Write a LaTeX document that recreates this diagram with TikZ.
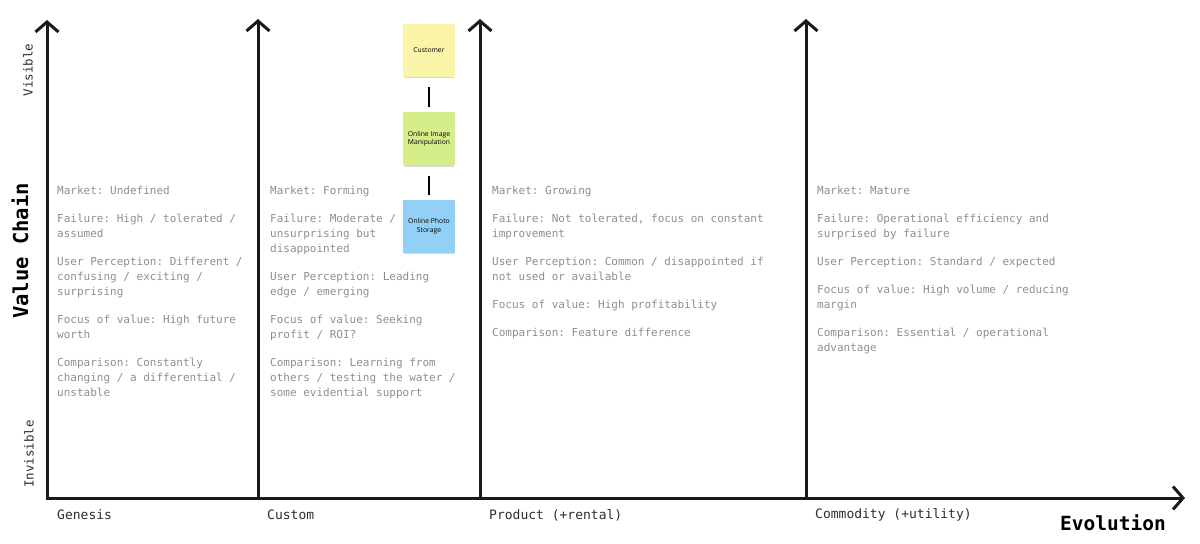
\documentclass[tikz,border=0pt]{standalone}
\usepackage{fontspec}
\setmainfont{Open Sans}
\setmonofont{DejaVu Sans Mono}
\usetikzlibrary{arrows.meta,shadows,positioning}

\definecolor{axiscol}{HTML}{1A1A1A}
\definecolor{desccol}{HTML}{8E8E8E}
\definecolor{stagecol}{HTML}{2E2E2E}
\definecolor{noteyellow}{HTML}{FAF5A8}
\definecolor{notegreen}{HTML}{D6EE8A}
\definecolor{noteblue}{HTML}{92D1F5}

\begin{document}
\begin{tikzpicture}[x=1bp, y=-1bp,
  axis/.style={draw=axiscol, line width=3bp, line join=miter,
    {Straight Barb[length=10bp,width=23bp,line width=3bp]}-{Straight Barb[length=10bp,width=23bp,line width=3bp]}},
  upaxis/.style={draw=axiscol, line width=3bp,
    -{Straight Barb[length=10bp,width=23bp,line width=3bp]}},
  desc/.style={anchor=north west, inner sep=0pt, align=left, text=desccol,
    font=\ttfamily\fontsize{11bp}{15bp}\selectfont},
  stage/.style={anchor=west, inner sep=0pt, text=stagecol,
    font=\ttfamily\fontsize{13bp}{15bp}\selectfont},
  title/.style={inner sep=0pt, text=black,
    font=\ttfamily\bfseries\fontsize{19.5bp}{22bp}\selectfont},
  vis/.style={inner sep=0pt, rotate=90, text=stagecol,
    font=\ttfamily\fontsize{12.5bp}{15bp}\selectfont},
  note/.style={minimum width=52bp, minimum height=53bp, inner sep=1bp,
    align=center, font=\fontsize{6.8bp}{8.5bp}\selectfont,
    drop shadow={shadow xshift=0bp, shadow yshift=-2.5bp, shadow scale=0.96, opacity=0.3}},
  link/.style={draw=black, line width=2bp, shorten <=10bp, shorten >=5bp}]
\useasboundingbox (0,0) rectangle (1200,544);

% axes
\coordinate (origin) at (47,498);
\coordinate (ytop) at (47,20);
\coordinate (xend) at (1185,498);
\coordinate (custom) at (258,498);
\coordinate (product) at (480,498);
\coordinate (commodity) at (806,498);
\draw[axis] (ytop) -- (origin) -- (xend);
\draw[upaxis] (custom) -- (258,19);
\draw[upaxis] (product) -- (480,19);
\draw[upaxis] (commodity) -- (806,19);

% axis labels
\node[title, font=\ttfamily\bfseries\fontsize{20.5bp}{22bp}\selectfont, rotate=90] (valuechain) at (20,251) {Value Chain};
\node[vis] (visible) at (28,70) {Visible};
\node[vis] (invisible) at (29,454) {Invisible};
\node[title] (evolution) at (1113,523) {Evolution};

\node[stage] (genesislbl) at (57,515) {Genesis};
\node[stage] (customlbl) at (267,515) {Custom};
\node[stage] (productlbl) at (489,515) {Product (+rental)};
\node[stage] (commoditylbl) at (815,515) {Commodity (+utility)};

% stage descriptions
\node[desc] (genesisdesc) at (57,186) {Market: Undefined\\[13bp]
Failure: High / tolerated /\\assumed\\[13bp]
User Perception: Different /\\confusing / exciting /\\surprising\\[13bp]
Focus of value: High future\\worth\\[13bp]
Comparison: Constantly\\changing / a differential /\\unstable};

\node[desc] (customdesc) at (270,186) {Market: Forming\\[13bp]
Failure: Moderate /\\unsurprising but\\disappointed\\[13bp]
User Perception: Leading\\edge / emerging\\[13bp]
Focus of value: Seeking\\profit / ROI?\\[13bp]
Comparison: Learning from\\others / testing the water /\\some evidential support};

\node[desc] (productdesc) at (492,186) {Market: Growing\\[13bp]
Failure: Not tolerated, focus on constant\\improvement\\[13bp]
User Perception: Common / disappointed if\\not used or available\\[13bp]
Focus of value: High profitability\\[13bp]
Comparison: Feature difference};

\node[desc] (commoditydesc) at (817,186) {Market: Mature\\[13bp]
Failure: Operational efficiency and\\surprised by failure\\[13bp]
User Perception: Standard / expected\\[13bp]
Focus of value: High volume / reducing\\margin\\[13bp]
Comparison: Essential / operational\\advantage};

% value chain
\node[note, fill=noteyellow] (customer) at (429,50.5) {Customer};
\node[note, fill=notegreen, below=35bp of customer] (imagemanip) {Online Image\\Manipulation};
\node[note, fill=noteblue, below=34bp of imagemanip] (photostorage) {Online Photo\\Storage};
\draw[link] (customer) -- (imagemanip);
\draw[link] (imagemanip) -- (photostorage);
\end{tikzpicture}
\end{document}
